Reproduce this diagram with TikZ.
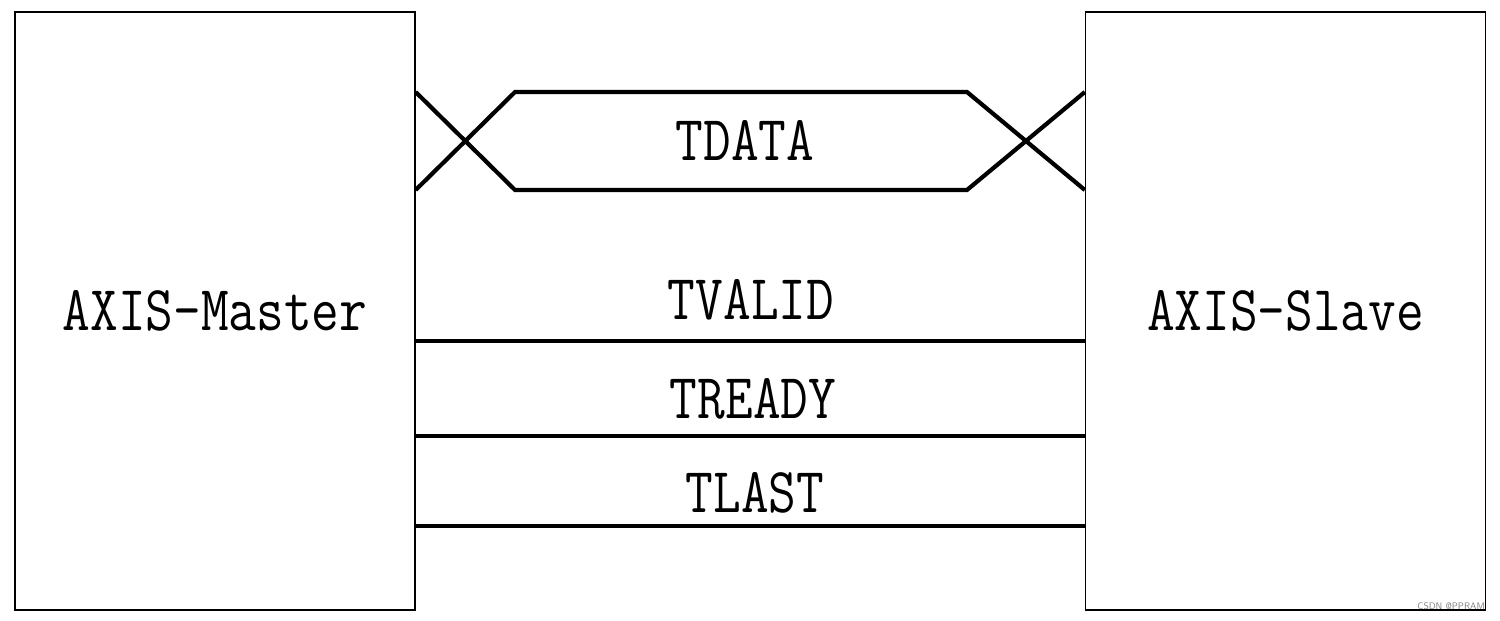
\documentclass[tikz,border=0pt]{standalone}
\usepackage{graphicx}
\usetikzlibrary{calc}
\newcommand{\narrowtxt}[1]{\scalebox{0.84}[1]{\fontsize{64}{70}\selectfont\ttfamily #1}}
\tikzset{
  blockbox/.style={draw=black, line width=1.3pt, minimum width=400pt, minimum height=598pt, inner sep=0pt},
  sig/.style={line width=4.2pt, line cap=butt},
  lbl/.style={inner sep=0pt, text=black}
}
\begin{document}
\begin{tikzpicture}[x=1pt,y=-1pt]
\useasboundingbox (0,0) rectangle (1500,621);
\fill[white] (0,0) rectangle (1500,621);
\node[blockbox] (master) at (215,311) {\narrowtxt{AXIS-Master}};
\node[blockbox] (slave) at (1285.5,311) {\narrowtxt{AXIS-Slave}};
% TDATA bus shape
\coordinate (mt) at (master.east |- 0,92);
\coordinate (mb) at (master.east |- 0,190);
\coordinate (st) at (slave.west |- 0,92);
\coordinate (sb) at (slave.west |- 0,190);
\coordinate (lt) at (515,92);
\coordinate (lb) at (515,190);
\coordinate (rt) at (967,92);
\coordinate (rb) at (967,190);
\draw[sig] (mt) -- (lb) -- (rb) -- (st);
\draw[sig] (mb) -- (lt) -- (rt) -- (sb);
\node[lbl] (tdata) at (745,140) {\narrowtxt{TDATA}};
% single lines
\coordinate (m1) at (master.east |- 0,341);
\coordinate (s1) at (slave.west |- 0,341);
\coordinate (m2) at (master.east |- 0,436);
\coordinate (s2) at (slave.west |- 0,436);
\coordinate (m3) at (master.east |- 0,526);
\coordinate (s3) at (slave.west |- 0,526);
\draw[sig] (m1) -- (s1);
\draw[sig] (m2) -- (s2);
\draw[sig] (m3) -- (s3);
\node[lbl] (tvalid) at (751,300) {\narrowtxt{TVALID}};
\node[lbl] (tready) at (753,399) {\narrowtxt{TREADY}};
\node[lbl] (tlast) at (755,493) {\narrowtxt{TLAST}};
\node[lbl, text=gray, font=\sffamily\fontsize{9.5}{10}\selectfont, anchor=east] (wm) at (1485,606) {CSDN @PPRAM};
\end{tikzpicture}
\end{document}
